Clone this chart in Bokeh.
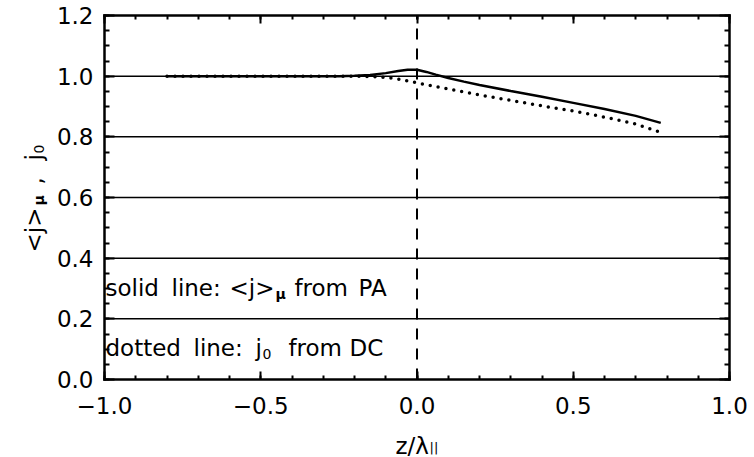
import math
from bokeh.plotting import figure
from bokeh.models import Range1d, LinearAxis, FixedTicker, Label, CustomJSTickFormatter
from bokeh.embed import file_html
from bokeh.resources import INLINE

# ---------------- data ----------------
z_pa = [-0.80, -0.60, -0.40, -0.25, -0.20, -0.15, -0.10, -0.06, -0.03, 0.00,
        0.03, 0.06, 0.10, 0.15, 0.20, 0.30, 0.40, 0.50, 0.60, 0.70, 0.78]
j_mu_pa = [1.000, 1.000, 1.000, 1.000, 1.001, 1.004, 1.010, 1.017, 1.021, 1.021,
           1.014, 1.005, 0.994, 0.982, 0.971, 0.951, 0.932, 0.912, 0.892, 0.869, 0.846]

z_dc = [-0.80, -0.60, -0.40, -0.20, -0.15, -0.10, -0.05, 0.00, 0.10, 0.20,
        0.30, 0.40, 0.50, 0.60, 0.70, 0.77]
j0_dc = [1.000, 1.000, 1.000, 1.000, 0.999, 0.996, 0.989, 0.978, 0.958, 0.938,
         0.920, 0.902, 0.885, 0.865, 0.842, 0.818]

z_marker = 0.0   # vertical dashed line position

x_ticks = [-1.0, -0.5, 0.0, 0.5, 1.0]
x_tick_labels = ["\u22121.0", "\u22120.5", "0.0", "0.5", "1.0"]
y_ticks = [0.0, 0.2, 0.4, 0.6, 0.8, 1.0, 1.2]
y_tick_labels = ["0.0", "0.2", "0.4", "0.6", "0.8", "1.0", "1.2"]

# ---------------- layout ----------------
W, H = 754, 457
FL, FR, FT, FB = 104, 729, 15, 379   # plot-box edges in canvas pixels
XMIN, XMAX, YMIN, YMAX = -1.0, 1.0, 0.0, 1.2
FONT = "DejaVu Sans"


def px2x(x):
    return XMIN + (x - FL) * (XMAX - XMIN) / (FR - FL)


def px2y(y):
    return YMIN + (FB - y) * (YMAX - YMIN) / (FB - FT)


# the frame covers the whole canvas; the axes sit at fixed data locations so that
# titles and labels outside the data box are not clipped
p = figure(width=W, height=H,
           x_range=Range1d(px2x(0), px2x(W)), y_range=Range1d(px2y(H), px2y(0)),
           output_backend="svg", toolbar_location=None,
           x_axis_location=None, y_axis_location=None,
           min_border=0, min_border_left=0, min_border_right=0,
           min_border_top=0, min_border_bottom=0,
           background_fill_color="white", border_fill_color="white",
           outline_line_color=None)
p.xgrid.visible = False
p.ygrid.visible = False

x_minor = [round(XMIN + 0.1 * i, 2) for i in range(21)]
y_minor = [round(YMIN + 0.05 * i, 2) for i in range(25)]


def make_axis(side, loc, ticks, minor, tin, mtin, labels=None, standoff=0):
    ax = LinearAxis(fixed_location=loc)
    ax.ticker = FixedTicker(ticks=ticks, minor_ticks=minor)
    ax.bounds = (ticks[0], ticks[-1])
    ax.axis_line_color = "black"
    ax.axis_line_width = 2.5
    ax.axis_line_cap = "square"
    ax.major_tick_in = tin
    ax.major_tick_out = 0
    ax.minor_tick_in = mtin
    ax.minor_tick_out = 0
    ax.major_tick_line_width = 2
    ax.minor_tick_line_width = 2
    ax.major_tick_line_color = "black"
    ax.minor_tick_line_color = "black"
    ax.major_label_text_font = FONT
    ax.major_label_text_color = "black"
    if labels is None:
        ax.formatter = CustomJSTickFormatter(code="return '';")
        ax.major_label_text_font_size = "1px"
        ax.major_label_standoff = 0
    else:
        ax.major_label_overrides = {t: s for t, s in zip(ticks, labels)}
        ax.major_label_text_font_size = "23px"
        ax.major_label_standoff = standoff
    p.add_layout(ax, side)
    return ax


make_axis("below", YMIN, x_ticks, x_minor, 8, 4, x_tick_labels, 17)
make_axis("above", YMAX, x_ticks, x_minor, 8, 4)
make_axis("left", XMIN, y_ticks, y_minor, 10, 5, y_tick_labels, 11)
make_axis("right", XMAX, y_ticks, y_minor, 10, 5)

# horizontal grid lines at the inner major y ticks
grid_y = y_ticks[1:-1]
p.segment(x0=[XMIN] * len(grid_y), y0=grid_y, x1=[XMAX] * len(grid_y), y1=grid_y,
          line_color="black", line_width=1.5, level="underlay")

# vertical dashed line at z = 0
p.line([z_marker, z_marker], [YMIN, YMAX], line_color="black", line_width=2,
       line_dash="11 9")

# curves
p.line(z_pa, j_mu_pa, line_color="black", line_width=2.5)
p.line(z_dc, j0_dc, line_color="black", line_width=3.5, line_dash="0 8",
       line_cap="round")


# ---------------- texts ----------------
def lab(text, x, y, size, bold=False, angle=0.0):
    p.add_layout(Label(x=px2x(x), y=px2y(y), text=text, text_font=FONT,
                       text_font_size=f"{size}px", text_color="black",
                       text_align="left", text_baseline="alphabetic",
                       text_font_style="bold" if bold else "normal",
                       angle=angle))


# annotations inside the plot box
lab("solid", 105, 287, 23)
lab("line:", 171, 287, 23)
lab("<j>", 229, 287, 23)
lab("\u03bc", 275, 293, 14, bold=True)
lab("from", 294, 287, 23)
lab("PA", 358, 287, 23)

lab("dotted", 105, 347, 23)
lab("line:", 193, 347, 23)
lab("j", 255, 347, 23)
lab("0", 262, 353, 14)
lab("from", 288, 347, 23)
lab("DC", 349, 347, 23)

# x title  z/λ_||
lab("z/\u03bb", 395, 445, 23)
lab("||", 429, 447, 13)

# y title  <j>_μ , j_0  (reads bottom to top)
r = math.pi / 2
lab("<j>", 33, 252, 23, angle=r)
lab("\u03bc", 38, 205, 14, bold=True, angle=r)
lab(",", 33, 184, 23, angle=r)
lab("j", 33, 160, 23, angle=r)
lab("0", 38, 153, 14, angle=r)

open("out.html", "w").write(file_html(p, INLINE))
